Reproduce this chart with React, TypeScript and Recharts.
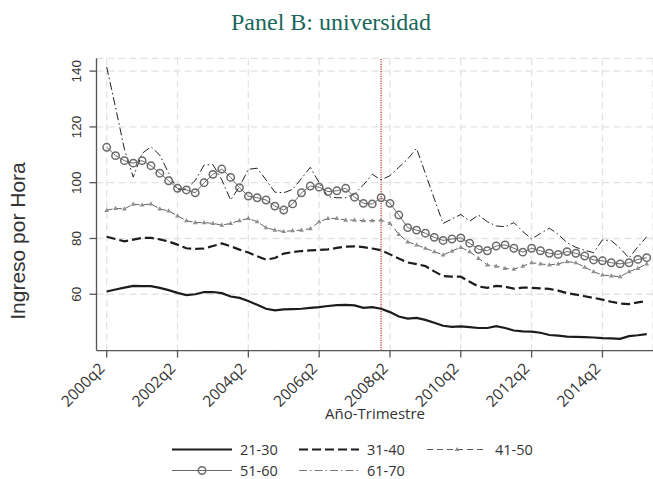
import React from "react";
import { LineChart, Line, XAxis, YAxis, CartesianGrid, ReferenceLine, Legend } from "recharts";

// quarters 2000q2 .. 2015q3
const quarters = Array.from({ length: 62 }, (_, i) => `${2000 + Math.floor((i + 1) / 4)}q${((i + 1) % 4) + 1}`);
const xTicks = ["2000q2", "2002q2", "2004q2", "2006q2", "2008q2", "2010q2", "2012q2", "2014q2"];
const yTicks = [60, 80, 100, 120, 140];
const crisisQuarter = "2008q1";

const age21to30 = [
  61.0, 61.7, 62.4, 63.0, 62.9, 62.9, 62.3, 61.5, 60.5, 59.7, 60.0, 60.8, 60.8, 60.4, 59.2, 58.7,
  57.6, 56.2, 54.8, 54.2, 54.6, 54.7, 54.8, 55.1, 55.4, 55.8, 56.1, 56.2, 56.0, 55.1, 55.4, 54.8,
  53.6, 52.0, 51.3, 51.5, 50.8, 49.8, 48.7, 48.3, 48.5, 48.2, 47.9, 47.9, 48.6, 47.9, 47.0, 46.7,
  46.6, 46.2, 45.4, 45.2, 44.8, 44.7, 44.6, 44.5, 44.3, 44.2, 44.0, 45.0, 45.3, 45.7,
];
const age31to40 = [
  80.6, 79.8, 79.0, 79.6, 80.2, 80.2, 79.7, 78.9, 77.8, 76.5, 76.3, 76.4, 77.3, 78.2, 77.2, 76.0,
  75.0, 73.6, 72.4, 73.0, 74.6, 75.1, 75.5, 75.7, 75.9, 76.1, 76.6, 77.1, 77.2, 76.9, 76.4, 75.8,
  74.3, 72.8, 71.4, 70.8, 70.1, 68.2, 66.5, 66.3, 66.3, 64.5, 62.8, 62.3, 63.0, 62.7, 62.0, 62.4,
  62.3, 62.1, 61.9, 61.3, 60.4, 59.9, 59.3, 58.7, 58.1, 57.3, 56.7, 56.5, 57.1, 57.6,
];
const age41to50 = [
  90.1, 90.8, 90.6, 92.3, 92.0, 92.4, 90.6, 89.9, 88.1, 86.4, 85.7, 85.7, 85.4, 84.8, 85.4, 86.4,
  87.2, 86.0, 83.9, 83.0, 82.5, 82.8, 83.0, 83.5, 86.0, 87.2, 87.2, 86.6, 86.6, 86.4, 86.4, 86.6,
  85.4, 81.5, 78.8, 77.7, 76.5, 75.3, 74.1, 75.5, 76.8, 75.3, 72.9, 70.5, 70.1, 69.3, 69.0, 70.1,
  71.3, 70.9, 70.5, 70.9, 71.7, 71.3, 69.7, 68.1, 66.9, 66.6, 66.3, 68.1, 69.3, 70.9,
];
const age51to60 = [
  112.7, 109.7, 107.9, 107.0, 107.9, 106.1, 103.4, 100.7, 98.0, 97.4, 96.4, 100.0, 103.0, 104.9, 101.9, 98.2,
  95.2, 94.6, 93.8, 91.6, 90.2, 92.4, 96.4, 98.8, 98.4, 96.8, 97.1, 98.0, 94.8, 92.6, 92.4, 94.6,
  92.6, 88.4, 83.9, 83.0, 81.9, 80.4, 79.3, 79.8, 80.2, 78.3, 76.1, 75.6, 77.3, 77.7, 76.5, 75.1,
  76.5, 75.6, 74.7, 74.3, 75.3, 74.7, 73.7, 72.3, 72.0, 71.3, 70.9, 71.3, 72.5, 73.1,
];
const age61to70 = [
  141.5, 127.0, 112.0, 102.0, 110.5, 112.9, 109.9, 103.4, 97.4, 97.8, 100.8, 106.3, 106.5, 101.0, 93.8, 98.6,
  104.8, 105.2, 101.0, 96.6, 96.4, 97.6, 101.5, 105.5, 100.0, 95.0, 94.6, 94.6, 96.0, 99.2, 103.0, 101.0,
  102.5, 105.5, 108.5, 112.3, 103.3, 94.3, 85.4, 87.0, 88.6, 86.2, 88.4, 86.0, 84.5, 84.2, 85.7, 82.5,
  79.8, 81.8, 83.7, 81.5, 78.5, 76.8, 75.8, 74.9, 79.5, 79.2, 76.5, 73.0, 77.0, 80.6,
];

const rows = quarters.map((quarter, i) => ({
  quarter,
  a21: age21to30[i],
  a31: age31to40[i],
  a41: age41to50[i],
  a51: age51to60[i],
  a61: age61to70[i],
}));

const sans = "'Open Sans', sans-serif";

const YTick = ({ y, payload }: any) => (
  <text transform={`translate(80.5, ${y}) rotate(-90)`} textAnchor="middle" fontSize={13.5}
    fontFamily="'Liberation Sans', Arial, sans-serif" fill="#333">
    {payload.value}
  </text>
);

const XTick = ({ x, y, payload }: any) => (
  <text transform={`translate(${x - 1}, ${y + 10}) rotate(-45)`} textAnchor="end" fontSize={15.5}
    fontFamily={sans} fill="#333">
    {payload.value}
  </text>
);

const TriangleDot = (props: any) => {
  const { cx, cy, index } = props;
  if (cx == null || cy == null) return null;
  return <path key={`tri-${index}`} d={`M${cx},${cy - 2.6} L${cx + 2.4},${cy + 1.6} L${cx - 2.4},${cy + 1.6} Z`} fill="#8f8f8f" />;
};

const legendRows = [
  [
    { name: "21-30", stroke: "#1c1c1c", width: 2.2, dash: undefined, marker: "" },
    { name: "31-40", stroke: "#1c1c1c", width: 2.2, dash: "9 4", marker: "" },
    { name: "41-50", stroke: "#555", width: 1, dash: "6 4", marker: "tri" },
  ],
  [
    { name: "51-60", stroke: "#6a6a6a", width: 1, dash: undefined, marker: "circle" },
    { name: "61-70", stroke: "#777", width: 1, dash: "8 3 1.5 3", marker: "" },
  ],
];
const legendCols = [172, 299, 427];

const ChartLegend = () => (
  <svg width={653} height={54}>
    {legendRows.map((row, r) =>
      row.map((item, c) => {
        const x0 = legendCols[c];
        const y = 24.5 + r * 21;
        const mid = x0 + 30;
        return (
          <g key={item.name}>
            <line x1={x0} x2={x0 + 60} y1={y} y2={y} stroke={item.stroke} strokeWidth={item.width} strokeDasharray={item.dash} />
            {item.marker === "tri" && (
              <path d={`M${mid},${y - 2.6} L${mid + 2.4},${y + 1.6} L${mid - 2.4},${y + 1.6} Z`} fill="#8f8f8f" />
            )}
            {item.marker === "circle" && <circle cx={mid} cy={y} r={3.7} fill="none" stroke="#6a6a6a" strokeWidth={1.5} />}
            <text x={x0 + 68} y={y + 5} fontSize={14.5} fontFamily={sans} fill="#333">
              {item.name}
            </text>
          </g>
        );
      })
    )}
  </svg>
);

export default function App() {
  return (
    <div style={{ position: "absolute", left: 0, top: 0, width: 653, height: 479, background: "#fff" }}>
      <LineChart width={653} height={479} data={rows} margin={{ top: 58.3, right: 0, bottom: 0, left: 0 }}>
        <CartesianGrid stroke="#e3e3e3" strokeWidth={1.3} strokeDasharray="7 4" />
        <XAxis
          dataKey="quarter"
          ticks={xTicks}
          interval={0}
          padding={{ left: 10.2, right: 6.3 }}
          height={128.4}
          tickSize={7}
          tickMargin={2}
          stroke="#555"
          strokeWidth={1.3}
          tick={<XTick />}
        />
        <YAxis
          type="number"
          domain={[39.8, 144.6]}
          ticks={yTicks}
          allowDataOverflow
          width={96.5}
          tickSize={7}
          stroke="#555"
          strokeWidth={1.3}
          tick={<YTick />}
        />
        <ReferenceLine x={crisisQuarter} stroke="#cc2020" strokeWidth={1.2} strokeDasharray="1.2 1.2" />
        <Line dataKey="a21" stroke="#1c1c1c" strokeWidth={2.2} dot={false} isAnimationActive={false} />
        <Line dataKey="a31" stroke="#1c1c1c" strokeWidth={2.2} strokeDasharray="9 4" dot={false} isAnimationActive={false} />
        <Line dataKey="a41" stroke="#666" strokeWidth={1} strokeDasharray="6 3.5" dot={<TriangleDot />} isAnimationActive={false} />
        <Line dataKey="a51" stroke="#6a6a6a" strokeWidth={1} dot={{ r: 3.7, stroke: "#6a6a6a", strokeWidth: 1.5, fill: "none" }} isAnimationActive={false} />
        <Line dataKey="a61" stroke="#222" strokeWidth={1} strokeDasharray="8 3 1.5 3" dot={false} isAnimationActive={false} />
        <Legend
          layout="vertical"
          align="center"
          verticalAlign="middle"
          content={() => <ChartLegend />}
          wrapperStyle={{ position: "absolute", left: 0, top: 425, width: 653, height: 54 }}
        />
      </LineChart>
      <svg width={653} height={479} style={{ position: "absolute", left: 0, top: 0, pointerEvents: "none" }}>
        <text x={331} y={30} textAnchor="middle" fontSize={24} fontFamily="'Liberation Serif', 'Times New Roman', serif" fill="#1a665a">
          Panel B: universidad
        </text>
        <text transform="translate(25, 241) rotate(-90)" textAnchor="middle" fontSize={21}
          fontFamily="'Liberation Sans', Arial, sans-serif" fill="#333">
          Ingreso por Hora
        </text>
        <text x={375} y={419} textAnchor="middle" fontSize={15} fontFamily={sans} fill="#333">
          Año-Trimestre
        </text>
      </svg>
    </div>
  );
}
